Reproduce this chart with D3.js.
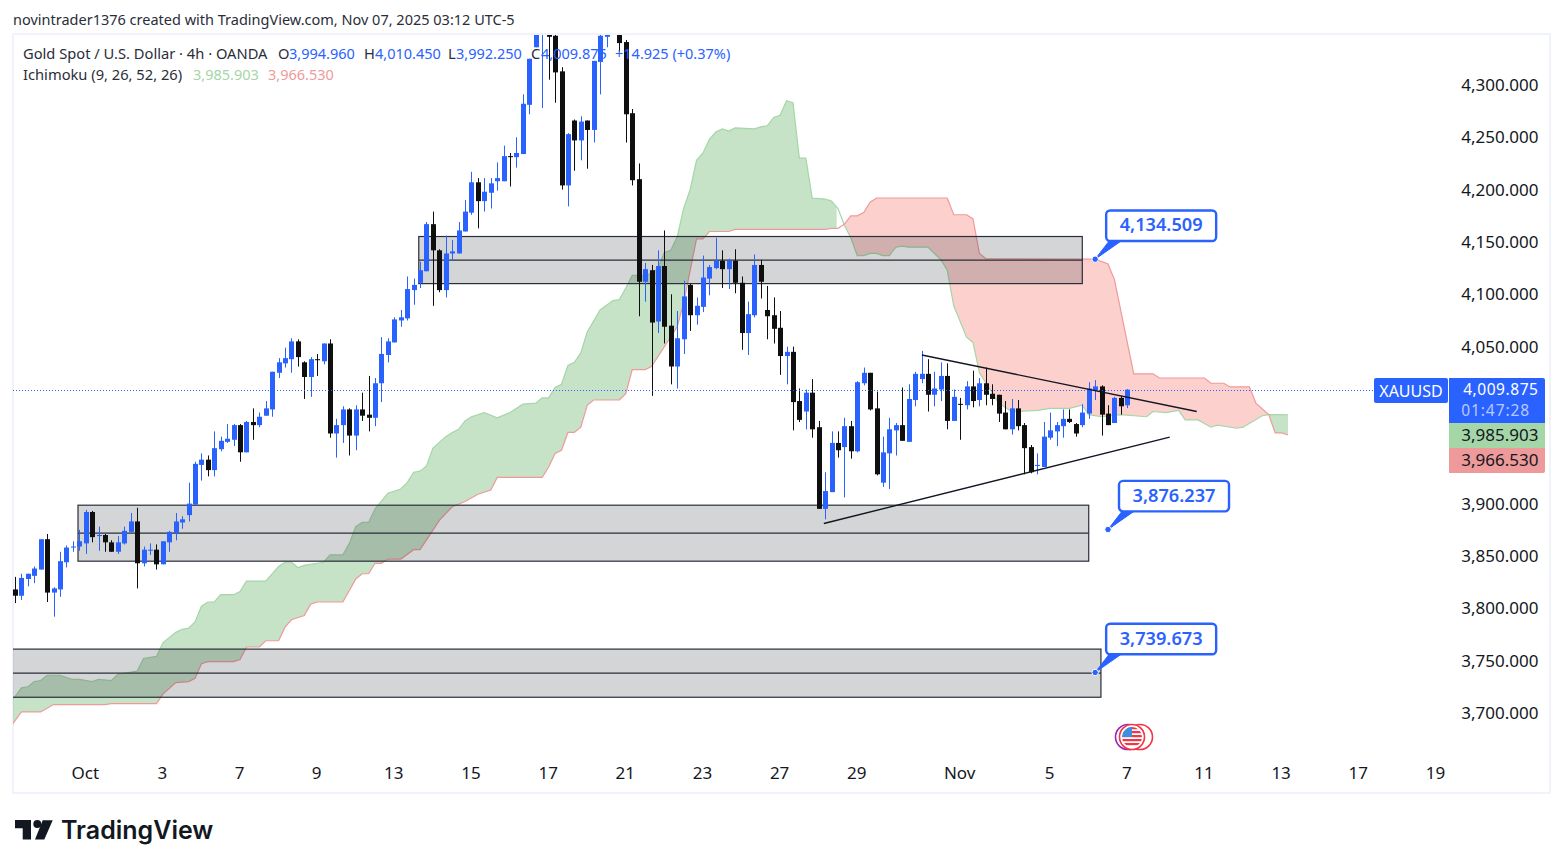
<!DOCTYPE html>
<html>
<head>
<meta charset="utf-8">
<style>
html, body { margin: 0; padding: 0; background: #fff; }
svg { display: block; }
text { font-family: "Noto Sans", sans-serif; fill: #131722; }
.axisText text { font-size: 17px; fill: #131722; }
</style>
<script src="https://cdn.jsdelivr.net/npm/d3@7/dist/d3.min.js"></script>
</head>
<body>
<script>
// 4h candles
const open = [
  3819,3813,3829,3832,3838,3867,3816,3819,3845,3859,
  3860,3863,3893,3870,3871,3864,3855,3863,3874,3884,
  3844,3856,3857,3843,3864,3873,3883,3890,3900,3938,
  3943,3933,3953,3960,3962,3976,3950,3979,3976,3985,
  3991,4026,4035,4039,4056,4036,4022,4039,4037,4054,
  3968,3976,3991,3966,3991,3986,3983,4016,4043,4055,
  4076,4078,4105,4112,4123,4168,4143,4105,4140,4140,
  4161,4179,4208,4190,4198,4209,4209,4233,4232,4235,
  4282,4337,4352,4360,4348,4314,4205,4267,4248,4267,
  4258,4323,4347,4365,4360,4342,4274,4211,4113,4124,
  4075,4128,4071,4032,4058,4110,4081,4089,4116,4126,
  4133,4125,4133,4112,4064,4081,4129,4086,4081,4069,
  4042,4046,3999,3989,4007,3974,3896,3912,3959,3955,
  3975,3951,4016,4026,3992,3921,3949,3971,3976,3960,
  4000,4020,4025,4005,4010,4023,3980,3996.3,3995,4013,
  4000,4016,4006,4005,3988,3972,3992,3976,3955,3937,
  3936,3964,3970,3975,3982,3977,3976,3987,4009,4013,
  3987,3978,4002,3994.96
];
const high = [
  3831,3834,3834,3841,3867,3872,3821,3855,3861,3865,
  3876,3895,3894,3879,3872,3866,3870,3879,3892,3897,
  3860,3863,3862,3865,3875,3892,3889,3921,3941,3949,
  3947,3970,3965,3977,3977,3977,3980,3992,3988,3999,
  4027,4040,4050,4059,4058,4037,4041,4044,4054,4058,
  3982,3994,3992,3995,4007,4023,4021,4060,4059,4079,
  4086,4118,4116,4132,4170,4180,4144,4157,4153,4170,
  4191,4218,4212,4212,4212,4227,4243,4236,4251,4292,
  4326,4365,4375,4365,4352,4318,4255,4268,4271,4267,
  4324,4352,4360,4385,4365,4344,4278,4226,4131,4129,
  4143,4162,4101,4085,4114,4111,4098,4138,4129,4155,
  4143,4135,4144,4118,4094,4139,4134,4109,4098,4085,
  4051,4051,4011,4010,4020,3980,3931,3970,3970,3983,
  3980,4018,4031,4026,4008,3965,3983,3978,4012,4015,
  4027,4047,4039,4027,4036,4035,4010,4002,4018,4028,
  4021,4031,4015,4005,3999,4001,4000,3978,3957,3949,
  3979,3988,3979,3991,3991,3978,3996,4017,4019,4014,
  3995,4003,4004,4010.45
];
const low = [
  3806,3809,3822,3825,3838,3807,3793,3812,3840,3855,
  3856,3853,3864,3856,3855,3855,3853,3862,3873,3820,
  3841,3852,3838,3843,3855,3866,3877,3884,3900,3923,
  3927,3927,3951,3959,3956,3941,3950,3962,3974,3985,
  3984,4021,4031,4026,4032,4001,4003,4023,4034,3964,
  3945,3959,3947,3952,3980,3970,3975,3998,4036,4055,
  4070,4076,4091,4107,4123,4090,4103,4098,4134,4140,
  4161,4177,4164,4180,4183,4200,4209,4204,4222,4235,
  4273,4337,4279,4306,4284,4201,4185,4219,4229,4221,
  4246,4292,4337,4352,4333,4246,4205,4080,4094,4004,
  4064,4054,4015,4011,4044,4066,4072,4084,4100,4125,
  4107,4106,4102,4048,4043,4079,4097,4058,4054,4024,
  4015,3971,3979,3972,3964,3896,3886,3912,3945,3907,
  3944,3950,4014,3990,3928,3917,3915,3947,3961,3960,
  3994,4016,3989,3994,3999,3972,3980,3962,3991,3993,
  3994,3995,3995,3979,3972,3967,3971,3929,3930,3929,
  3936,3962,3956,3964,3978,3965,3974,3982,4000,3966,
  3976,3978,3986,3992.25
];
const close = [
  3813,3830,3834,3839,3867,3816,3820,3846,3859,3860,
  3865,3893,3869,3871,3864,3855,3864,3875,3884,3844,
  3857,3857,3843,3865,3874,3884,3886,3901,3939,3943,
  3933,3954,3961,3963,3976,3950,3979,3976,3984,3992,
  4027,4036,4040,4056,4041,4022,4039,4038,4054,3968,
  3976,3991,3966,3991,3985,3983,4016,4044,4056,4077,
  4079,4106,4110,4124,4168,4143,4105,4140,4142,4162,
  4180,4208,4190,4199,4207,4212,4233,4232,4236,4283,
  4326,4360,4370,4347,4313,4205,4254,4248,4266,4258,
  4324,4348,4355,4370,4341,4273,4210,4113,4125,4074,
  4128,4070,4032,4059,4099,4081,4090,4117,4127,4133,
  4125,4133,4112,4064,4082,4129,4113,4080,4068,4042,
  4046,3998,3981,4007,3972,3896,3913,3959,3952,3975,
  3951,4017,4026,3991,3929,3950,3972,3976,3961,4001,
  4025,4025,4005,4011,4023,3980,4003,3996,4013,3999,
  4016,4005,4001,3987,3972,3992,3975,3954,3931,3938,
  3965,3971,3976,3982,3979,3968,3988,4011,4013,3986,
  3976,4002,3994,4009.875
];

// ichimoku cloud edges as [bar, price], only where the edge changes direction
const spanA = [
  [-1,3708],[1,3725],[2,3726],[3,3731],[4,3732],[5,3737],[7,3737],[9,3733],[10,3733],[12,3731],
  [13,3733],[15,3732],[16,3738],[19,3741],[20,3753],[22,3755],[23,3768],[25,3778],[26,3781],[27,3782],
  [28,3788],[29,3803],[30,3807],[31,3807],[32,3814],[34,3814],[35,3817],[36,3827],[39,3827],[41,3841],
  [42,3845],[43,3845],[44,3840],[45,3842],[47,3844],[48,3845],[49,3852],[51,3852],[52,3863],[53,3879],
  [54,3883],[55,3883],[56,3896],[58,3911],[60,3915],[61,3921],[62,3931],[63,3932],[64,3937],[65,3954],
  [67,3965],[68,3969],[69,3972],[70,3980],[71,3984],[73,3988],[75,3983],[77,3988],[79,3996],[81,3997],
  [82,4002],[83,4002],[84,4012],[85,4015],[86,4033],[87,4036],[88,4045],[89,4065],[91,4086],[93,4095],
  [94,4096],[95,4107],[96,4119],[98,4119],[99,4121],[100,4126],[101,4141],[102,4143],[103,4156],[104,4183],
  [105,4201],[106,4229],[107,4236],[108,4249],[109,4256],[110,4259],[111,4257],[112,4260],[115,4259],[116,4261],
  [117,4262],[118,4270],[119,4272],[120,4286],[121,4284],[122,4231],[123,4231],[124,4193],[126,4192],[127,4190],
  [128,4183],[129,4167],[130,4155],[131,4138],[132,4138],[133,4140],[134,4140],[135,4138],[136,4138],[137,4146],
  [138,4147],[139,4146],[142,4146],[143,4140],[144,4134],[145,4124],[146,4090],[148,4060],[149,4055],[150,4026],
  [153,3997],[155,3989],[156,3989],[159,3990],[161,3992],[164,3992],[166,3995],[167,3986],[169,3984],[172,3986],
  [176,3984],[177,3989],[179,3988],[181,3990],[182,3981],[184,3981],[186,3974],[187,3976],[190,3973],[191,3974],
  [194,3985],[195,3986],[198,3985.903]
];
const spanB = [
  [-1,3685],[1,3702],[4,3702],[6,3709],[14,3709],[15,3710],[22,3710],[23,3719],[25,3730],[27,3731],
  [28,3734],[29,3748],[30,3750],[34,3750],[35,3752],[36,3764],[38,3764],[39,3770],[41,3770],[42,3783],
  [43,3790],[45,3794],[46,3805],[47,3807],[51,3807],[53,3829],[54,3834],[55,3834],[56,3844],[57,3844],
  [58,3848],[60,3848],[62,3857],[63,3857],[66,3885],[68,3898],[70,3903],[72,3910],[74,3914],[75,3926],
  [82,3926],[83,3936],[84,3949],[85,3952],[86,3969],[87,3969],[88,3974],[89,3995],[90,4000],[94,4000],
  [95,4006],[96,4029],[98,4029],[99,4032],[103,4070],[104,4093],[106,4154],[107,4154],[108,4161],[111,4161],
  [112,4163],[126,4163],[127,4164],[128,4164],[129,4168],[130,4176],[131,4176],[132,4179],[133,4189],[134,4193],
  [145,4193],[146,4177],[148,4177],[149,4173],[150,4140],[151,4135],[168,4134.5],[170,4130],[171,4115],[174,4025],
  [177,4025],[178,4021],[185,4021],[186,4016],[188,4016],[189,4012.5],[192,4012.5],[193,3997],[195,3986],[196,3968.5],
  [197,3968.5],[198,3966.53]
];
// bars where the cloud changes colour: green up to the first, red between, green after
const kumoBreaks = [127.8, 128.8, 194.9];

const priceTicks = [4300, 4250, 4200, 4150, 4100, 4050, 3900, 3850, 3800, 3750, 3700];
const timeTickBars = [11, 23, 35, 47, 59, 71, 83, 95, 107, 119, 131, 147, 161, 173, 185, 197, 209, 221];
const timeTickLabels = ['Oct', '3', '7', '9', '13', '15', '17', '21', '23', '27', '29', 'Nov', '5', '7', '11', '13', '17', '19'];

// drawings
const zoneFrom = [62.8, 9.8, -1];
const zoneTo = [166, 167, 168.9];
const zoneTop = [4156.2, 3899.5, 3762];
const zoneBottom = [4111.2, 3846, 3716];
const trendBars = [[141.05, 183.8], [125.8, 179.6]];
const trendPrices = [[4043, 3989], [3882, 3964.5]];
const calloutBars = [168, 170, 168];
const calloutPrices = [4134.509, 3876.237, 3739.673];

const lastPrice = 4009.875;
const spanALast = '3,985.903';
const spanBLast = '3,966.530';

const blue = '#2962ff';
const black = '#0f0f0f';
const fmt = d3.format(',.3f');

const svg = d3.select('body').append('svg')
  .attr('width', 1563)
  .attr('height', 868);

svg.append('rect').attr('width', 1563).attr('height', 868).attr('fill', '#fff');

const xScale = d3.scaleLinear().domain([0, 173]).range([15, 1127.3]);
const yScale = d3.scaleLinear().domain([3700, 4300]).range([714, 86]);

// chart frame
svg.append('rect')
  .attr('x', 13).attr('y', 34)
  .attr('width', 1537).attr('height', 759)
  .attr('fill', 'none')
  .attr('stroke', '#f0f3fa')
  .attr('stroke-width', 2);

svg.append('clipPath').attr('id', 'plot')
  .append('rect').attr('x', 13).attr('y', 35).attr('width', 1436).attr('height', 757);

const plot = svg.append('g').attr('clip-path', 'url(#plot)');

// cloud: one closed shape between both edges, cut into colour runs with clips
const kumoPoints = spanA.concat(spanB.slice().reverse());
const kumoPath = d3.line().x(d => xScale(d[0])).y(d => yScale(d[1]))(kumoPoints) + 'Z';
const edgeLine = d3.line().x(d => xScale(d[0])).y(d => yScale(d[1]));

const kumoRuns = [
  {id: 'kumo0', from: -2, to: kumoBreaks[0], fill: 'rgba(67,160,71,0.3)'},
  {id: 'kumo1', from: kumoBreaks[1], to: kumoBreaks[2], fill: 'rgba(244,67,54,0.25)'},
  {id: 'kumo2', from: kumoBreaks[2], to: 199, fill: 'rgba(67,160,71,0.3)'}
];
kumoRuns.forEach(r => {
  svg.append('clipPath').attr('id', r.id)
    .append('rect')
      .attr('x', xScale(r.from)).attr('y', 0)
      .attr('width', xScale(r.to) - xScale(r.from)).attr('height', 868);
  plot.append('g').attr('clip-path', `url(#${r.id})`)
    .append('path')
      .attr('d', kumoPath)
      .attr('fill', r.fill)
      .attr('fill-rule', 'evenodd');
});
plot.append('path').attr('d', edgeLine(spanA))
  .attr('fill', 'none').attr('stroke', '#a5d6a7').attr('stroke-width', 1.2);
plot.append('path').attr('d', edgeLine(spanB))
  .attr('fill', 'none').attr('stroke', '#ef9a9a').attr('stroke-width', 1.2);

// supply / demand zones with the centre line
zoneFrom.forEach((from, i) => {
  const x0 = xScale(from), x1 = xScale(zoneTo[i]);
  const y0 = yScale(zoneTop[i]), y1 = yScale(zoneBottom[i]);
  plot.append('rect')
    .attr('x', x0).attr('y', y0)
    .attr('width', x1 - x0).attr('height', y1 - y0)
    .attr('fill', 'rgba(42,46,57,0.2)')
    .attr('stroke', '#2a2e39')
    .attr('stroke-width', 1.2);
  plot.append('line')
    .attr('x1', x0).attr('x2', x1)
    .attr('y1', (y0 + y1) / 2).attr('y2', (y0 + y1) / 2)
    .attr('stroke', '#2a2e39')
    .attr('stroke-width', 1.2);
});

// candles
const bars = d3.range(open.length);
const candleColor = i => close[i] >= open[i] ? blue : black;
const candles = plot.append('g').selectAll('g').data(bars).enter().append('g');
candles.append('rect')
  .attr('x', i => Math.round(xScale(i)))
  .attr('width', 1)
  .attr('y', i => yScale(high[i]))
  .attr('height', i => yScale(low[i]) - yScale(high[i]))
  .attr('fill', candleColor);
candles.append('rect')
  .attr('x', i => Math.round(xScale(i)) - 2)
  .attr('width', 5)
  .attr('y', i => yScale(Math.max(open[i], close[i])))
  .attr('height', i => Math.max(1, Math.abs(yScale(open[i]) - yScale(close[i]))))
  .attr('fill', candleColor);

// last price line
const lastY = Math.round(yScale(lastPrice)) + 0.5;
plot.append('line')
  .attr('x1', 13).attr('x2', 1374)
  .attr('y1', lastY).attr('y2', lastY)
  .attr('stroke', blue)
  .attr('stroke-width', 1)
  .attr('stroke-dasharray', '1 2');

// triangle
trendBars.forEach((b, i) => {
  plot.append('line')
    .attr('x1', xScale(b[0])).attr('x2', xScale(b[1]))
    .attr('y1', yScale(trendPrices[i][0])).attr('y2', yScale(trendPrices[i][1]))
    .attr('stroke', '#131722')
    .attr('stroke-width', 1.4);
});

// price callouts
calloutBars.forEach((b, i) => {
  const px = xScale(b), py = yScale(calloutPrices[i]);
  const left = px + 11, top = py - 48.7, w = 110, h = 30.5;
  const g = svg.append('g');
  g.append('path')
    .attr('d', `M${px},${py}L${left + 3},${top + h}L${left + 15},${top + h}Z`)
    .attr('fill', blue).attr('stroke', blue).attr('stroke-width', 1);
  g.append('rect')
    .attr('x', left).attr('y', top).attr('width', w).attr('height', h)
    .attr('rx', 4)
    .attr('fill', '#fff').attr('stroke', blue).attr('stroke-width', 2.4);
  g.append('circle')
    .attr('cx', px).attr('cy', py).attr('r', 3.2)
    .attr('fill', blue).attr('stroke', '#fff').attr('stroke-width', 1);
  g.append('text')
    .attr('x', left + w / 2).attr('y', top + h / 2 + 5.5)
    .attr('text-anchor', 'middle')
    .style('font-size', '18.2px')
    .style('font-weight', 600)
    .style('fill', blue)
    .text(fmt(calloutPrices[i]));
});

// axes through d3, no lines, only the labels
const yAxis = svg.append('g')
  .attr('class', 'axisText')
  .attr('transform', 'translate(1538.5,-1)')
  .call(d3.axisLeft(yScale).tickValues(priceTicks).tickSize(0).tickPadding(0).tickFormat(fmt));
yAxis.select('.domain').remove();
yAxis.selectAll('text').style('font-family', '"Noto Sans", sans-serif').style('font-size', '17px');

const xAxis = svg.append('g')
  .attr('class', 'axisText')
  .attr('transform', 'translate(-1,766.5)')
  .call(d3.axisBottom(xScale).tickValues(timeTickBars).tickSize(0).tickPadding(0)
    .tickFormat((d, i) => timeTickLabels[i]));
xAxis.select('.domain').remove();
xAxis.selectAll('text').style('font-family', '"Noto Sans", sans-serif').style('font-size', '17px');

// price scale labels
svg.append('rect').attr('x', 1374).attr('y', 378).attr('width', 74).attr('height', 25)
  .attr('rx', 2).attr('fill', blue);
svg.append('text').attr('x', 1411).attr('y', 396.5).attr('text-anchor', 'middle')
  .style('font-size', '16px').style('fill', '#fff').text('XAUUSD');
svg.append('path')
  .attr('d', 'M1449,378H1543a2,2 0 0 1 2,2V423H1449Z').attr('fill', blue);
svg.append('text').attr('x', 1538.5).attr('y', 395).attr('text-anchor', 'end')
  .style('font-size', '15.5px').style('letter-spacing', '0.55px').style('fill', '#fff').text(fmt(lastPrice));
svg.append('text').attr('x', 1530).attr('y', 416).attr('text-anchor', 'end')
  .style('font-size', '15.5px').style('letter-spacing', '0.9px').style('fill', '#b9c9ff').text('01:47:28');
svg.append('rect').attr('x', 1449).attr('y', 423).attr('width', 96).attr('height', 25).attr('fill', '#a5d6a7');
svg.append('text').attr('x', 1538.5).attr('y', 441).attr('text-anchor', 'end')
  .style('font-size', '17px').text(spanALast);
svg.append('path')
  .attr('d', 'M1449,448H1545V471a2,2 0 0 1 -2,2H1449Z').attr('fill', '#ef9a9a');
svg.append('text').attr('x', 1538.5).attr('y', 466).attr('text-anchor', 'end')
  .style('font-size', '17px').text(spanBLast);

// legend
const legendRow = (y, parts) => parts.forEach(p => {
  svg.append('text').attr('x', p[0]).attr('y', y)
    .style('font-size', p[2] ? '14.5px' : '14.7px').style('fill', p[2] || '#2a2e39').text(p[1]);
});
legendRow(59, [
  [23, 'Gold Spot / U.S. Dollar · 4h · OANDA'],
  [278, 'O'], [289, '3,994.960', blue],
  [364, 'H'], [375, '4,010.450', blue],
  [448, 'L'], [456, '3,992.250', blue],
  [531, 'C'], [541, '4,009.875', blue],
  [615, '+14.925 (+0.37%)', blue]
]);
legendRow(80, [
  [23, 'Ichimoku (9, 26, 52, 26)'],
  [193, spanALast, '#a5d6a7'],
  [268, spanBLast, '#ef9a9a']
]);

// header and logo
svg.append('text').attr('x', 13).attr('y', 25)
  .style('font-size', '14.5px').style('fill', '#2a2e39')
  .text('novintrader1376 created with TradingView.com, Nov 07, 2025 03:12 UTC-5');

const logo = svg.append('g').attr('fill', '#131722');
logo.append('path').attr('d', 'M15,820H31V839.5H22.7V828.3H15Z');
logo.append('circle').attr('cx', 37.3).attr('cy', 824).attr('r', 4);
logo.append('path').attr('d', 'M42.7,820.3H52.7L44.3,839.5H35Z');
svg.append('text').attr('x', 61).attr('y', 839)
  .style('font-family', 'Inter, sans-serif')
  .style('font-size', '25px').style('font-weight', 600).style('fill', '#131722')
  .text('TradingView');

// economic event badge
const badge = svg.append('g').attr('transform', 'translate(1132,737)');
badge.append('circle').attr('cx', -4).attr('r', 12.5).attr('fill', '#fff').attr('stroke', '#9c27b0').attr('stroke-width', 1.6);
badge.append('circle').attr('cx', 8).attr('r', 12.5).attr('fill', '#fff').attr('stroke', '#f23645').attr('stroke-width', 1.6);
badge.append('circle').attr('r', 12.5).attr('fill', '#fff').attr('stroke', '#f23645').attr('stroke-width', 1.6);
svg.append('clipPath').attr('id', 'flag').append('circle').attr('cx', 1132).attr('cy', 737).attr('r', 10);
const flag = svg.append('g').attr('clip-path', 'url(#flag)');
d3.range(5).forEach(i => {
  flag.append('rect').attr('x', 1122).attr('y', 727 + i * 4).attr('width', 20).attr('height', 2.2).attr('fill', '#f23645');
});
flag.append('rect').attr('x', 1122).attr('y', 727).attr('width', 10).attr('height', 10).attr('fill', '#3f8fe0');
</script>
</body>
</html>
